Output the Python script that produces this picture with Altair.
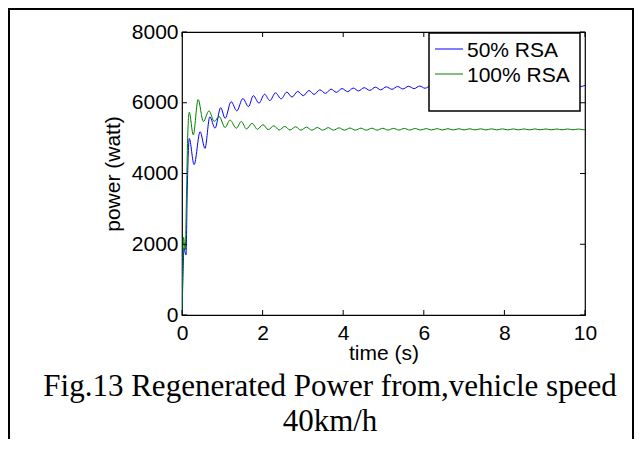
import altair as alt
import pandas as pd

# ---------------- data ----------------
series_names = ["50% RSA", "100% RSA"]
series_colors = ["#0000ff", "#008000"]

blue_t = [0.00, 0.02, 0.05, 0.07, 0.10, 0.13, 0.18, 0.30, 0.45, 0.57, 0.69, 0.82, 0.96, 1.07,
          1.22, 1.36, 1.51, 1.65, 1.77, 1.91, 2.05, 2.18, 2.32, 2.46, 2.60, 2.73, 2.87, 3.01,
          3.15, 3.28, 3.42, 3.56, 3.70, 3.83, 3.97, 4.11, 4.25, 4.38, 4.52, 4.66, 4.80, 4.93,
          5.07, 5.21, 5.35, 5.48, 5.62, 5.76, 5.90, 6.03, 6.17, 6.31, 6.45, 6.58, 6.72, 6.86,
          7.00, 7.13, 7.27, 7.41, 7.55, 7.68, 7.82, 7.96, 8.10, 8.23, 8.37, 8.51, 8.65, 8.78,
          8.92, 9.06, 9.20, 9.33, 9.47, 9.61, 9.75, 9.88, 10.00]
blue_p = [0, 900, 1900, 1800, 1700, 3500, 4990, 4250, 5180, 4710, 5600, 5280, 5860, 5560,
          6030, 5770, 6120, 5890, 6200, 5990, 6240, 6060, 6280, 6110, 6300, 6160, 6320, 6200,
          6345, 6235, 6365, 6265, 6385, 6295, 6400, 6315, 6415, 6335, 6425, 6350, 6440, 6365,
          6450, 6380, 6460, 6390, 6465, 6400, 6472, 6410, 6478, 6415, 6484, 6420, 6488, 6425,
          6492, 6430, 6496, 6434, 6500, 6438, 6503, 6442, 6506, 6445, 6509, 6448, 6511, 6450,
          6513, 6452, 6515, 6454, 6517, 6456, 6518, 6458, 6490]

green_t = [0.00, 0.02, 0.04, 0.06, 0.08, 0.11, 0.14, 0.18, 0.28, 0.40, 0.53, 0.67, 0.80, 0.92,
           1.07, 1.19, 1.35, 1.47, 1.60, 1.74, 1.87, 2.01, 2.14, 2.28, 2.41, 2.55, 2.68, 2.82,
           2.95, 3.09, 3.22, 3.36, 3.49, 3.63, 3.76, 3.90, 4.03, 4.17, 4.30, 4.44, 4.57, 4.71,
           4.84, 4.98, 5.11, 5.25, 5.38, 5.52, 5.65, 5.79, 5.92, 6.06, 6.19, 6.33, 6.46, 6.60,
           6.73, 6.87, 7.00, 7.14, 7.27, 7.41, 7.54, 7.68, 7.81, 7.95, 8.08, 8.22, 8.35, 8.49,
           8.62, 8.76, 8.89, 9.03, 9.16, 9.30, 9.43, 9.57, 9.70, 9.84, 9.97, 10.00]
green_p = [0, 1500, 2200, 2000, 1850, 3300, 5000, 5730, 5090, 6090, 5470, 5770, 5470, 5610,
           5300, 5510, 5280, 5470, 5260, 5420, 5250, 5380, 5240, 5350, 5230, 5330, 5230, 5320,
           5225, 5310, 5225, 5300, 5225, 5295, 5225, 5290, 5225, 5285, 5225, 5282, 5225, 5280,
           5226, 5278, 5227, 5276, 5228, 5274, 5228, 5272, 5229, 5270, 5230, 5268, 5230, 5267,
           5231, 5266, 5231, 5265, 5232, 5264, 5232, 5263, 5233, 5262, 5233, 5261, 5234, 5260,
           5234, 5260, 5235, 5259, 5235, 5258, 5236, 5258, 5236, 5257, 5237, 5240]

x_ticks = [0, 2, 4, 6, 8, 10]
y_ticks = [0, 2000, 4000, 6000, 8000]
x_title = "time (s)"
y_title = "power (watt)"
caption_lines = ["Fig.13 Regenerated Power from,vehicle speed", "40km/h"]

# ---------------- layout ----------------
W, H = 403, 283
SANS = "Liberation Sans"
SERIF = "Liberation Serif"
FS = 21

blue_df = pd.DataFrame({"t": blue_t, "p": blue_p, "series": series_names[0]})
green_df = pd.DataFrame({"t": green_t, "p": green_p, "series": series_names[1]})

xscale = alt.Scale(domain=[0, 10], nice=False, zero=False)
yscale = alt.Scale(domain=[0, 8000], nice=False, zero=False)
xaxis = alt.Axis(values=x_ticks, title=x_title, ticks=False, domain=False, grid=False,
                 labelPadding=7, titlePadding=-1, format="d", labelFlush=False)
yaxis = alt.Axis(values=y_ticks, title=y_title, ticks=False, domain=False, grid=False,
                 labelPadding=4, titlePadding=8, format="d")

X = alt.X("t:Q", scale=xscale, axis=xaxis)
Y = alt.Y("p:Q", scale=yscale, axis=yaxis)

blue_line = alt.Chart(blue_df).mark_line(strokeWidth=1, interpolate="monotone", clip=True,
                                         color=series_colors[0]).encode(x=X, y=Y)
green_line = alt.Chart(green_df).mark_line(strokeWidth=1, interpolate="monotone", clip=True,
                                           color=series_colors[1]).encode(x=X, y=Y)

xt_df = pd.DataFrame({"t": x_ticks})
yt_df = pd.DataFrame({"p": y_ticks})
tick_bottom = alt.Chart(xt_df).mark_rule(color="black", strokeWidth=1).encode(
    x=X, y=alt.value(H), y2=alt.value(H - 5))
tick_top = alt.Chart(xt_df).mark_rule(color="black", strokeWidth=1).encode(
    x=X, y=alt.value(0), y2=alt.value(5))
tick_left = alt.Chart(yt_df).mark_rule(color="black", strokeWidth=1).encode(
    y=Y, x=alt.value(0), x2=alt.value(5))
tick_right = alt.Chart(yt_df).mark_rule(color="black", strokeWidth=1).encode(
    y=Y, x=alt.value(W), x2=alt.value(W - 5))

one = pd.DataFrame({"k": [0]})

# legend box and entries
leg_box = alt.Chart(one).mark_rect(fill="white", stroke="black", strokeWidth=1.5).encode(
    x=alt.value(247), x2=alt.value(398), y=alt.value(1), y2=alt.value(79))
leg_layers = [leg_box]
for i, (name, col) in enumerate(zip(series_names, series_colors)):
    ly = 17 + 25 * i
    leg_layers.append(alt.Chart(one).mark_rule(color=col, strokeWidth=1).encode(
        x=alt.value(253), x2=alt.value(281), y=alt.value(ly)))
    leg_layers.append(alt.Chart(pd.DataFrame({"label": [name]})).mark_text(
        align="left", baseline="middle", font=SANS, fontSize=FS, color="black").encode(
        x=alt.value(285), y=alt.value(ly + 2), text="label:N"))

# caption
cap_layers = []
for i, line in enumerate(caption_lines):
    cap_layers.append(alt.Chart(pd.DataFrame({"c": [line]})).mark_text(
        align="center", baseline="alphabetic", font=SERIF, fontSize=31, color="black").encode(
        x=alt.value(148), y=alt.value(364 + 35 * i), text="c:N"))

# outer figure frame
FR = 451
FB = 420
frame = [
    alt.Chart(one).mark_rule(color="black", strokeWidth=2).encode(
        x=alt.value(-173), y=alt.value(-23), y2=alt.value(FB)),
    alt.Chart(one).mark_rule(color="black", strokeWidth=2).encode(
        x=alt.value(-174), x2=alt.value(FR + 1), y=alt.value(-23)),
    alt.Chart(one).mark_rule(color="black", strokeWidth=2).encode(
        x=alt.value(FR), y=alt.value(-23), y2=alt.value(FB)),
]

chart = alt.layer(
    blue_line, green_line, tick_bottom, tick_top, tick_left, tick_right,
    *leg_layers, *cap_layers, *frame
).properties(
    width=W, height=H,
    padding={"left": 174, "top": 24, "right": 50, "bottom": 124},
    autosize=alt.AutoSizeParams(type="none"),
    background="white",
).configure_view(
    stroke="black", strokeWidth=1.2
).configure_axis(
    labelFont=SANS, labelFontSize=FS, labelColor="black",
    titleFont=SANS, titleFontSize=FS, titleFontWeight="normal", titleColor="black",
)

chart.save("out.html", embed_options={"renderer": "svg", "actions": False})
